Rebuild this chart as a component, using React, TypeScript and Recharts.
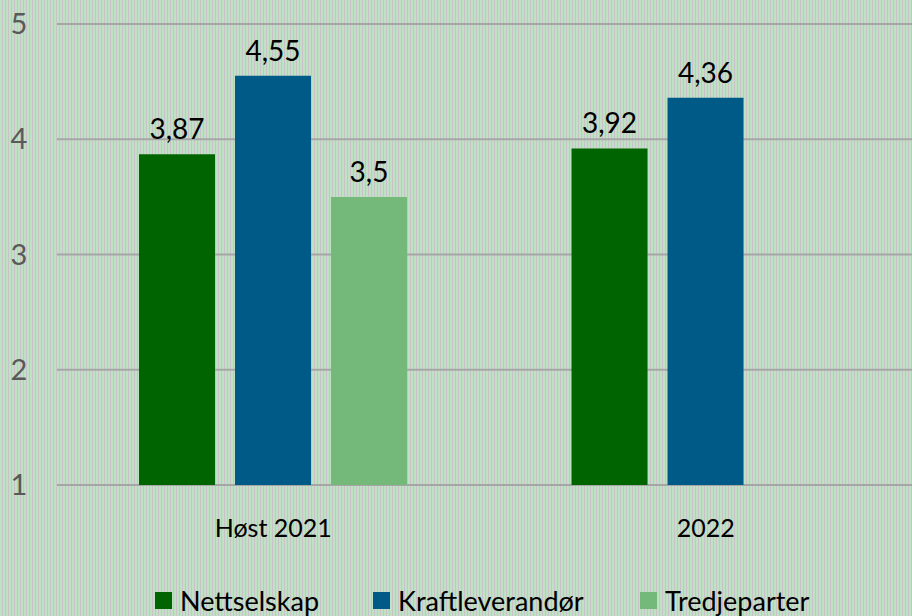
import React from 'react';
import { BarChart, Bar, XAxis, YAxis, CartesianGrid, Legend, LabelList } from 'recharts';

const categories = ['Høst 2021', '2022'];
const nettselskap = [3.87, 3.92];
const kraftleverandor = [4.55, 4.36];
const tredjeparter: (number | null)[] = [3.5, null];
const yTicks = [1, 2, 3, 4, 5];

const series = [
  { key: 'Nettselskap', values: nettselskap, color: '#006400' },
  { key: 'Kraftleverandør', values: kraftleverandor, color: '#005a87' },
  { key: 'Tredjeparter', values: tredjeparter, color: '#74b87a' },
];

const data = categories.map((name, i) => {
  const row: any = { name };
  series.forEach((s) => { row[s.key] = s.values[i]; });
  return row;
});

const fmt = (v: any) => (v == null ? '' : String(v).replace('.', ','));

const FONT = 'Lato, "Open Sans", sans-serif';

const YTick = ({ y, payload }: any) => (
  <text x={19} y={y} dy={10} textAnchor="middle" fontSize={29} fill="#595959" fontFamily={FONT}>
    {payload.value}
  </text>
);

const CustomLegend = () => (
  <div style={{ position: 'relative', height: 40, fontFamily: FONT, fontSize: 27, color: '#000' }}>
    {series.map((s, i) => (
      <div
        key={s.key}
        style={{ position: 'absolute', left: [155, 373, 640][i], top: 8, display: 'flex', alignItems: 'center' }}
      >
        <div style={{ width: 17, height: 17, background: s.color, marginRight: 8 }} />
        <span>{s.key}</span>
      </div>
    ))}
  </div>
);

export default function App() {
  return (
    <div
      style={{
        position: 'fixed',
        left: 0,
        top: 0,
        width: 912,
        height: 616,
        overflow: 'hidden',
        background: 'repeating-linear-gradient(90deg, #bfe2c5 0px, #bfe2c5 2px, #cbc1cb 2px, #cbc1cb 3px)',
      }}
    >
      <BarChart
        width={912}
        height={616}
        data={data}
        margin={{ top: 24, right: -10, bottom: 0, left: 0 }}
        barSize={76}
        barGap={20}
      >
        <CartesianGrid vertical={false} stroke="#a6a6a6" strokeWidth={2} />
        <XAxis
          dataKey="name"
          axisLine={false}
          tickLine={false}
          height={91}
          tick={{ fontSize: 25, fill: '#000', fontFamily: FONT, dy: 26 }}
        />
        <YAxis
          domain={[1, 5]}
          ticks={yTicks}
          width={57}
          axisLine={false}
          tickLine={false}
          tick={<YTick />}
        />
        <Legend verticalAlign="bottom" height={40} content={<CustomLegend />} />
        {series.map((s) => (
          <Bar key={s.key} dataKey={s.key} fill={s.color} isAnimationActive={false}>
            <LabelList
              dataKey={s.key}
              position="top"
              offset={15}
              formatter={fmt}
              style={{ fontSize: 28, fill: '#000', fontFamily: FONT }}
            />
          </Bar>
        ))}
      </BarChart>
    </div>
  );
}
